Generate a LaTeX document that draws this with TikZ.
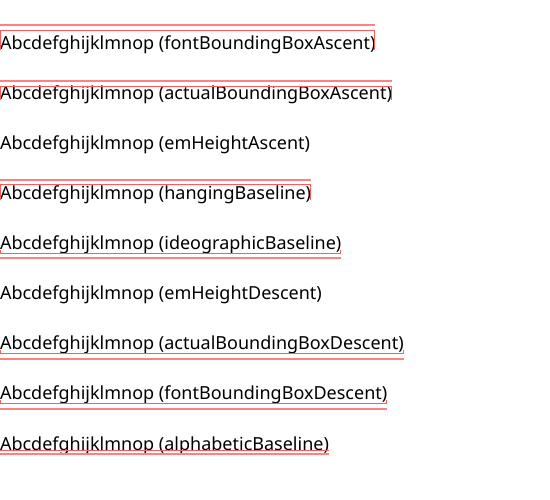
\documentclass[tikz,border=0pt]{standalone}
\usepackage{fontspec}
\setmainfont{Noto Sans}
\begin{document}
\begin{tikzpicture}[x=1pt,y=-1pt,
  lbl/.style={anchor=base west,inner sep=0pt,outer sep=0pt,font=\fontsize{18}{22}\selectfont},
  thinred/.style={draw={rgb,255:red,255;green,90;blue,90},line width=1pt},
  thickred/.style={draw={rgb,255:red,255;green,128;blue,128},line width=2pt}]
\useasboundingbox[fill=white] (0,0) rectangle (550,500);
\node[lbl] (t1) at (0,50) {Abcdefghijklmnop (fontBoundingBoxAscent)};
\node[lbl] (t2) at (0,100) {Abcdefghijklmnop (actualBoundingBoxAscent)};
\node[lbl] (t3) at (0,150) {Abcdefghijklmnop (emHeightAscent)};
\node[lbl] (t4) at (0,200) {Abcdefghijklmnop (hangingBaseline)};
\node[lbl] (t5) at (0,250) {Abcdefghijklmnop (ideographicBaseline)};
\node[lbl] (t6) at (0,300) {Abcdefghijklmnop (emHeightDescent)};
\node[lbl] (t7) at (0,350) {Abcdefghijklmnop (actualBoundingBoxDescent)};
\node[lbl] (t8) at (0,400) {Abcdefghijklmnop (fontBoundingBoxDescent)};
\node[lbl] (t9) at (0,450) {Abcdefghijklmnop (alphabeticBaseline)};
% line 1
\draw[thinred] (0.5,50) -- (0.5,31) -- ([xshift=-0.5pt]t1.east |- 0,31) -- ([xshift=-0.5pt]t1.east |- 0,50);
\draw[thickred] (0,25.5) -- (t1.east |- 0,25.5);
% line 2
\draw[thinred] (0.5,100) -- (0.5,86.5) -- ([xshift=-0.5pt]t2.east |- 0,86.5) -- ([xshift=-0.5pt]t2.east |- 0,100);
\draw[thickred] (0,81) -- (t2.east |- 0,81);
% line 4
\draw[thinred] (0.5,200) -- (0.5,185) -- ([xshift=-0.5pt]t4.east |- 0,185) -- ([xshift=-0.5pt]t4.east |- 0,200);
\draw[thickred] (0,180) -- (t4.east |- 0,180);
% line 5
\draw[thinred] (0.5,250) -- (0.5,254) -- ([xshift=-0.5pt]t5.east |- 0,254) -- ([xshift=-0.5pt]t5.east |- 0,250);
\draw[thickred] (0,258.5) -- (t5.east |- 0,258.5);
% line 7
\draw[thinred] (0.5,350) -- (0.5,354) -- ([xshift=-0.5pt]t7.east |- 0,354) -- ([xshift=-0.5pt]t7.east |- 0,350);
\draw[thickred] (0,359) -- (t7.east |- 0,359);
% line 8
\draw[thinred] (0.5,400) -- (0.5,404) -- ([xshift=-0.5pt]t8.east |- 0,404) -- ([xshift=-0.5pt]t8.east |- 0,400);
\draw[thickred] (0,409.5) -- (t8.east |- 0,409.5);
% line 9
\draw[thinred] (0,450.5) -- (t9.east |- 0,450.5);
\draw[thickred] (0,454.5) -- (t9.east |- 0,454.5);
\end{tikzpicture}
\end{document}
